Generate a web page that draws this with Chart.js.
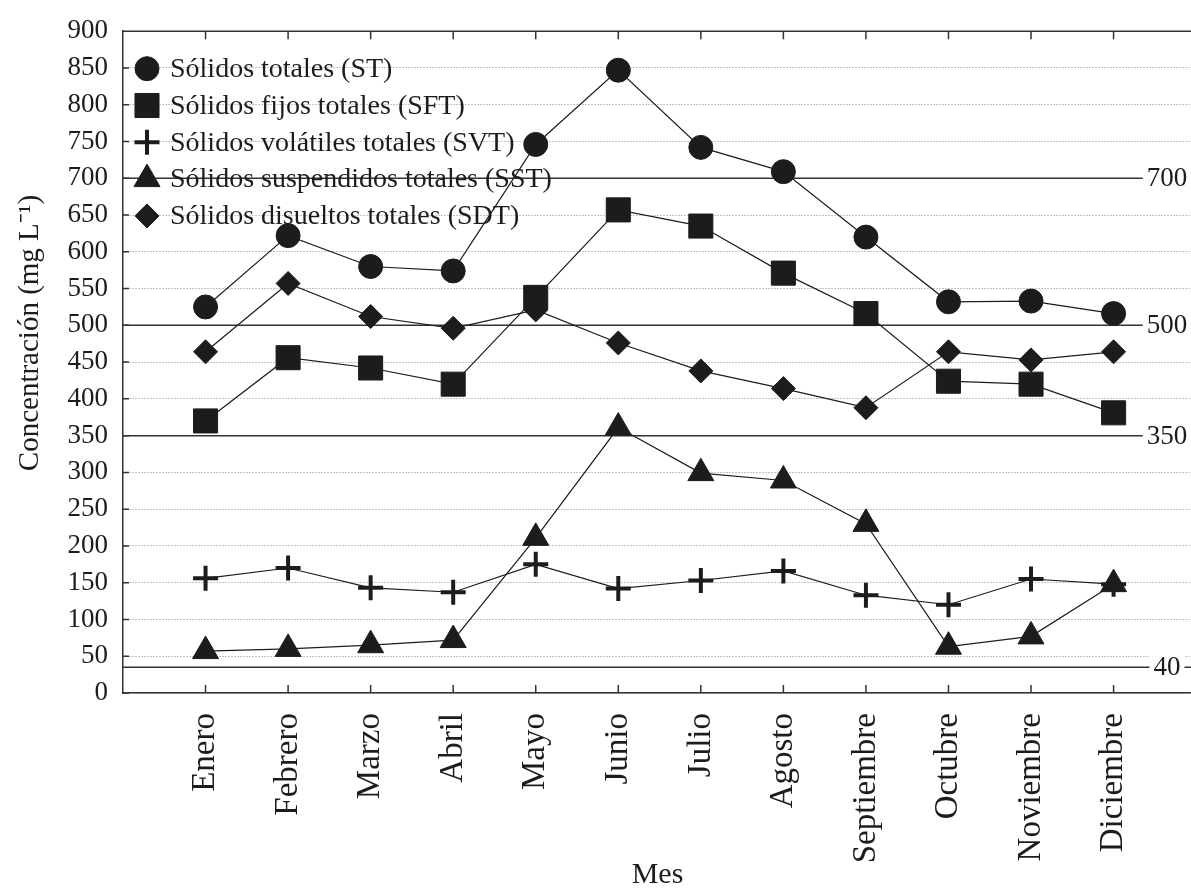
<!DOCTYPE html>
<html>
<head>
<meta charset="utf-8">
<script src="https://cdn.jsdelivr.net/npm/chart.js@4/dist/chart.umd.min.js"></script>
<style>
  body { margin: 0; background: #fff; }
  #wrap { width: 1191px; height: 890px; overflow: hidden; }
</style>
</head>
<body>
<div id="wrap"><canvas id="chart" width="1210" height="890"></canvas></div>
<script>
const months = ['Enero', 'Febrero', 'Marzo', 'Abril', 'Mayo', 'Junio', 'Julio',
    'Agosto', 'Septiembre', 'Octubre', 'Noviembre', 'Diciembre'];

const seriesNames = [
    'Sólidos totales (ST)',
    'Sólidos fijos totales (SFT)',
    'Sólidos volátiles totales (SVT)',
    'Sólidos suspendidos totales (SST)',
    'Sólidos disueltos totales (SDT)'
];

const st = [525, 622, 580, 574, 746, 847, 742, 709, 620, 532, 533, 516];
const sft = [370, 456, 442, 420, 538, 657, 635, 571, 516, 424, 420, 381];
const svt = [156, 170, 143, 137, 175, 142, 153, 166, 133, 120, 155, 148];
const sst = [57, 60, 65, 72, 211, 361, 299, 289, 230, 63, 77, 148];
const sdt = [464, 557, 512, 496, 521, 476, 438, 414, 388, 464, 453, 464];

// horizontal reference lines and the labels printed at their right end
const refValues = [700, 500, 350, 35];
const refLabels = ['700', '500', '350', '40'];

const yMin = 0;
const yMax = 900;
const yStep = 50;
const yTitle = 'Concentración (mg L⁻¹)';

const ink = '#1c1c1c';
const serif = '"Liberation Serif", "Times New Roman", serif';
const visibleWidth = 1191; // the page clips the canvas here

const markers = [
    { pointStyle: 'circle', radius: 12, borderWidth: 1 },
    { pointStyle: 'rect', radius: 17, borderWidth: 1 },
    { pointStyle: 'cross', radius: 12.5, borderWidth: 4 },
    { pointStyle: 'triangle', radius: 15, borderWidth: 1 },
    { pointStyle: 'rectRot', radius: 12, borderWidth: 1 }
];

const toPoints = values => values.map((v, i) => ({ x: i + 1, y: v }));

const datasets = [st, sft, svt, sst, sdt].map((values, i) => ({
    label: seriesNames[i],
    data: toPoints(values),
    borderColor: ink,
    backgroundColor: ink,
    borderWidth: 1.2,
    pointStyle: markers[i].pointStyle,
    pointRadius: markers[i].radius,
    pointHoverRadius: markers[i].radius,
    pointBorderWidth: markers[i].borderWidth,
    pointBackgroundColor: ink,
    pointBorderColor: ink,
    tension: 0
}));

// frame, inward ticks, reference lines, y title and the in-plot legend
const decorations = {
    id: 'decorations',
    beforeDatasetsDraw(chart) {
        const { ctx, chartArea: a, scales: { x, y } } = chart;
        const right = visibleWidth;
        ctx.save();
        ctx.strokeStyle = '#333';
        ctx.lineWidth = 1.5;

        ctx.beginPath();
        ctx.moveTo(a.left, a.top);
        ctx.lineTo(right, a.top);
        months.forEach((m, i) => {
            const px = x.getPixelForValue(i + 1);
            ctx.moveTo(px, a.top);
            ctx.lineTo(px, a.top + 8);
            ctx.moveTo(px, a.bottom);
            ctx.lineTo(px, a.bottom - 8);
        });
        for (let v = yMin; v <= yMax; v += yStep) {
            const py = y.getPixelForValue(v);
            ctx.moveTo(a.left, py);
            ctx.lineTo(a.left + 6, py);
        }
        ctx.stroke();

        ctx.font = '27px ' + serif;
        ctx.textBaseline = 'middle';
        ctx.textAlign = 'center';
        refValues.forEach((v, i) => {
            const py = y.getPixelForValue(v);
            ctx.beginPath();
            ctx.moveTo(a.left, py);
            ctx.lineTo(right, py);
            ctx.stroke();
            const cx = right - 24;
            const w = ctx.measureText(refLabels[i]).width;
            ctx.fillStyle = '#fff';
            ctx.fillRect(cx - w / 2 - 4, py - 12, w + 8, 24);
            ctx.fillStyle = ink;
            ctx.fillText(refLabels[i], cx, py + 1);
        });

        // y axis title, rotated
        ctx.save();
        ctx.translate(30, 333);
        ctx.rotate(-Math.PI / 2);
        ctx.font = '29px ' + serif;
        ctx.fillStyle = ink;
        ctx.fillText(yTitle, 0, 0);
        ctx.restore();

        ctx.font = '28px ' + serif;
        ctx.textAlign = 'left';
        chart.data.datasets.forEach((ds, i) => {
            const ly = a.top + 37.5 + i * 36.8;
            const lx = a.left + 24;
            ctx.fillStyle = ink;
            ctx.strokeStyle = ink;
            ctx.lineWidth = ds.pointBorderWidth;
            Chart.helpers.drawPoint(ctx, {
                pointStyle: ds.pointStyle,
                radius: ds.pointRadius,
                borderWidth: ds.pointBorderWidth,
                rotation: 0
            }, lx, ly);
            ctx.fillText(ds.label, a.left + 47, ly + 1);
        });
        ctx.restore();
    }
};

new Chart(document.getElementById('chart'), {
    type: 'line',
    data: { datasets },
    options: {
        responsive: false,
        animation: false,
        layout: { padding: { top: 25, right: 0, bottom: 0, left: 0 } },
        plugins: {
            legend: { display: false },
            tooltip: { enabled: false }
        },
        scales: {
            x: {
                type: 'linear',
                min: 0,
                max: 12.95,
                afterFit: s => { s.height = 197; },
                afterBuildTicks: s => { s.ticks = months.map((m, i) => ({ value: i + 1 })); },
                grid: { display: false },
                border: { display: true, color: '#333', width: 1.5 },
                ticks: {
                    autoSkip: false,
                    minRotation: 90,
                    maxRotation: 90,
                    padding: 12,
                    color: ink,
                    font: { family: serif, size: 33 },
                    callback: v => months[v - 1] || ''
                },
                title: {
                    display: true,
                    text: 'Mes',
                    color: ink,
                    font: { family: serif, size: 30, lineHeight: 1 },
                    padding: { top: 0, bottom: 0 }
                }
            },
            y: {
                min: yMin,
                max: yMax,
                afterFit: s => { s.width = 123; },
                grid: { color: '#8a8a8a', lineWidth: 1, drawTicks: false },
                border: { display: true, color: '#333', width: 1.5, dash: [1, 2] },
                ticks: {
                    stepSize: yStep,
                    padding: 15,
                    color: ink,
                    font: { family: serif, size: 27 }
                },
                title: { display: false }
            }
        }
    },
    plugins: [decorations]
});
</script>
</body>
</html>
